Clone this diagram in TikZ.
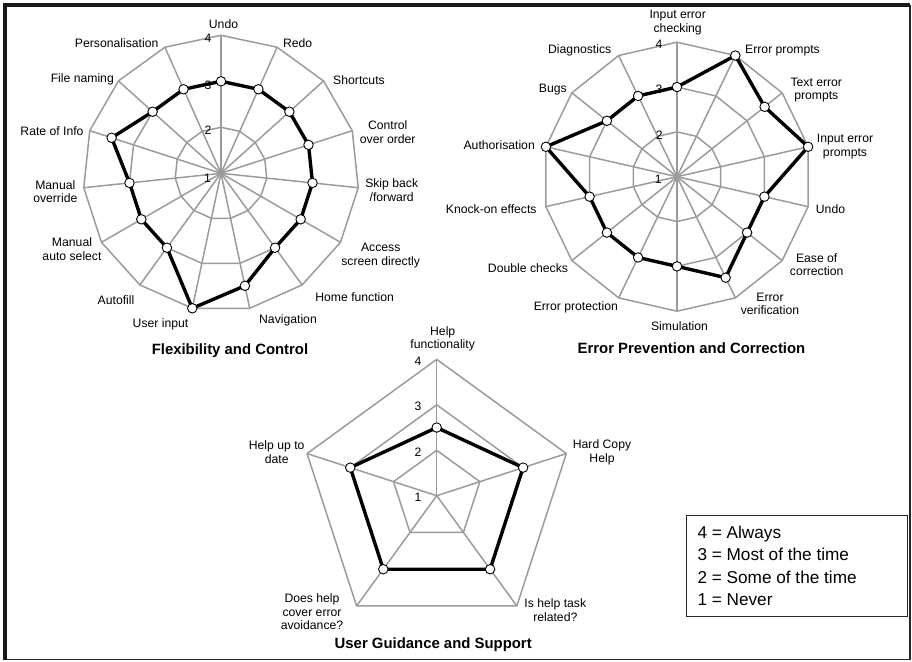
\documentclass[tikz,border=0pt]{standalone}
\usepackage{fontspec}
\setmainfont{Liberation Sans}
\usetikzlibrary{calc}
\definecolor{gridgray}{RGB}{155,155,155}
\definecolor{framegray}{RGB}{40,40,40}
\begin{document}
\begin{tikzpicture}[x=1pt,y=-1pt,
  gridline/.style={draw=gridgray, line width=1.5pt, line join=round},
  dataline/.style={draw=black, line width=3.4pt, line join=round},
  datapt/.style={circle, draw=black, fill=white, line width=0.9pt, inner sep=0pt, minimum size=9.5pt},
  lbl/.style={font=\fontsize{12.2}{13.6}\selectfont, align=center, inner sep=0pt},
  scalelbl/.style={font=\fontsize{12.2}{13}\selectfont, inner sep=0pt},
  ttl/.style={font=\fontsize{14.9}{16}\selectfont\bfseries, inner sep=0pt},
  legendtxt/.style={font=\fontsize{17.2}{18}\selectfont, inner sep=0pt, anchor=base west},
]
\useasboundingbox (0,0) rectangle (912,661);
% outer frame
\coordinate (fTL) at (5,5);
\coordinate (fTR) at (910,5);
\coordinate (fBR) at (910,659.5);
\coordinate (fBL) at (5,659.5);
\draw[framegray, line width=1.8pt] (fTR) -- (fBR) -- (fBL);
\draw[black!90, line width=3.8pt] (fBL) -- (fTL) -- (fTR);

% ================= Chart 1: Flexibility and Control =================
\coordinate (c1) at (221,173.3);
\foreach \r in {46,92,138}{
  \draw[gridline] ($(c1)+(90:\r pt)$) \foreach \k in {1,...,14}{ -- ($(c1)+({90-24*\k}:\r pt)$) } -- cycle;
}
\foreach \k in {0,...,14}{
  \coordinate (c1v\k) at ($(c1)+({90-24*\k}:138pt)$);
  \draw[gridline] (c1) -- (c1v\k);
}
\foreach \v [count=\k from 0] in {3,3,3,3,3,3,3,3.5,4,3,3,3,3.5,3,3}{
  \coordinate (c1d\k) at ($(c1)+({90-24*\k}:{(\v-1)*46pt})$);
}
\draw[dataline] (c1d0) \foreach \k in {1,...,14}{ -- (c1d\k) } -- cycle;
\foreach \k in {0,...,14}{ \node[datapt] (c1p\k) at (c1d\k) {}; }
\node[scalelbl] (c1s4) at (208,38.5) {4};
\node[scalelbl] (c1s3) at (208,85.5) {3};
\node[scalelbl] (c1s2) at (208,130.5) {2};
\node[scalelbl] (c1s1) at (207.5,178.3) {1};
\node[lbl] (l1a) at (223.5,24) {Undo};
\node[lbl] (l1b) at (297.7,43.3) {Redo};
\node[lbl] (l1c) at (359,80) {Shortcuts};
\node[lbl] (l1d) at (387.7,132.3) {Control\\over order};
\node[lbl] (l1e) at (391.7,190) {Skip back\\/forward};
\node[lbl] (l1f) at (380.7,255.8) {Access\\screen directly};
\node[lbl] (l1g) at (354.7,296.7) {Home function};
\node[lbl] (l1h) at (288,320.7) {Navigation};
\node[lbl] (l1i) at (160.5,324.3) {User input};
\node[lbl] (l1j) at (116,300) {Autofill};
\node[lbl] (l1k) at (72,249.2) {Manual\\auto select};
\node[lbl] (l1l) at (55.3,191.8) {Manual\\override};
\node[lbl] (l1m) at (52,130.7) {Rate of Info};
\node[lbl] (l1n) at (82.3,79) {File naming};
\node[lbl] (l1o) at (116.7,43.3) {Personalisation};
\node[ttl] (t1) at (230,350.5) {Flexibility and Control};

% ================= Chart 2: Error Prevention and Correction =================
\coordinate (c2) at (677,176.7);
\foreach \r in {44.8,89.6,134.5}{
  \draw[gridline] ($(c2)+(90:\r pt)$) \foreach \k in {1,...,13}{ -- ($(c2)+({90-360/14*\k}:\r pt)$) } -- cycle;
}
\foreach \k in {0,...,13}{
  \coordinate (c2v\k) at ($(c2)+({90-360/14*\k}:134.5pt)$);
  \draw[gridline] (c2) -- (c2v\k);
}
\foreach \v [count=\k from 0] in {3,4,3.5,4,3,3,3.5,3,3,3,3,4,3,3}{
  \coordinate (c2d\k) at ($(c2)+({90-360/14*\k}:{(\v-1)*44.83pt})$);
}
\draw[dataline] (c2d0) \foreach \k in {1,...,13}{ -- (c2d\k) } -- cycle;
\foreach \k in {0,...,13}{ \node[datapt] (c2p\k) at (c2d\k) {}; }
\node[scalelbl] (c2s4) at (659,44) {4};
\node[scalelbl] (c2s3) at (659,89) {3};
\node[scalelbl] (c2s2) at (659.3,135) {2};
\node[scalelbl] (c2s1) at (658.3,179.3) {1};
\node[lbl] (l2a) at (677.7,22.5) {Input error\\checking};
\node[lbl] (l2b) at (782.5,51) {Error prompts};
\node[lbl] (l2c) at (816.3,90) {Text error\\prompts};
\node[lbl] (l2d) at (845,146.5) {Input error\\prompts};
\node[lbl] (l2e) at (830.5,209) {Undo};
\node[lbl] (l2f) at (816.7,264.7) {Ease of\\correction};
\node[lbl] (l2g) at (770,303.7) {Error\\verification};
\node[lbl] (l2h) at (679.5,325.7) {Simulation};
\node[lbl] (l2i) at (575.8,307.3) {Error protection};
\node[lbl] (l2j) at (528,267.7) {Double checks};
\node[lbl] (l2k) at (491.2,209) {Knock-on effects};
\node[lbl] (l2l) at (499.2,145) {Authorisation};
\node[lbl] (l2m) at (552.8,90) {Bugs};
\node[lbl] (l2n) at (579.7,50) {Diagnostics};
\node[ttl] (t2) at (691.5,347.7) {Error Prevention and Correction};

% ================= Chart 3: User Guidance and Support =================
\coordinate (c3) at (436.7,495.7);
\foreach \r in {45.4,90.9,136.3}{
  \draw[gridline] ($(c3)+(90:\r pt)$) \foreach \k in {1,...,4}{ -- ($(c3)+({90-72*\k}:\r pt)$) } -- cycle;
}
\foreach \k in {0,...,4}{
  \coordinate (c3v\k) at ($(c3)+({90-72*\k}:136.3pt)$);
  \draw[gridline] (c3) -- (c3v\k);
}
\foreach \v [count=\k from 0] in {2.5,3,3,3,3}{
  \coordinate (c3d\k) at ($(c3)+({90-72*\k}:{(\v-1)*45.43pt})$);
}
\draw[dataline] (c3d0) \foreach \k in {1,...,4}{ -- (c3d\k) } -- cycle;
\foreach \k in {0,...,4}{ \node[datapt] (c3p\k) at (c3d\k) {}; }
\node[scalelbl] (c3s4) at (418,361) {4};
\node[scalelbl] (c3s3) at (418,406.7) {3};
\node[scalelbl] (c3s2) at (418,452) {2};
\node[scalelbl] (c3s1) at (418,497) {1};
\node[lbl] (l3a) at (442.7,339) {Help\\functionality};
\node[lbl] (l3b) at (602,452.5) {Hard Copy\\Help};
\node[lbl] (l3c) at (555.3,610) {Is help task\\related?};
\node[lbl] (l3d) at (312,611.7) {Does help\\cover error\\avoidance?};
\node[lbl] (l3e) at (276.7,452) {Help up to\\date};
\node[ttl] (t3) at (433.2,644.3) {User Guidance and Support};

% ================= Legend =================
\node[draw=framegray, line width=1.3pt, minimum width=221pt, minimum height=100.7pt, anchor=north west, inner sep=0pt] (leg) at (685.7,515) {};
\node[legendtxt] (g4) at (697.3,538.5) {4 = Always};
\node[legendtxt] (g3) at (697.3,560.7) {3 = Most of the time};
\node[legendtxt] (g2) at (697.3,583) {2 = Some of the time};
\node[legendtxt] (g1) at (697.3,605.2) {1 = Never};
\end{tikzpicture}
\end{document}
